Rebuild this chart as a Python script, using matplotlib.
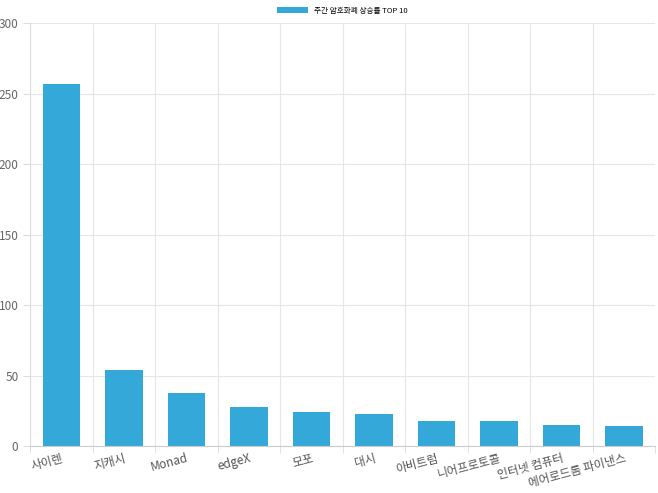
import matplotlib.pyplot as plt
import numpy as np

plt.rcParams['font.family'] = ['Noto Sans CJK KR', 'DejaVu Sans']

coins = ["사이렌", "지캐시", "Monad", "edgeX", "모포", "대시", "아비트럼",
         "니어프로토콜", "인터넷 컴퓨터", "에어로드롬 파이낸스"]
gains = [257, 54, 37.5, 28, 24, 23, 18, 17.5, 14.8, 14.2]
legend_label = "주간 암호화폐 상승률 TOP 10"

fig = plt.figure(figsize=(6.58, 4.93), dpi=100)
ax = fig.add_axes([0.046, 0.095, 0.95, 0.858])

x = np.arange(len(coins))
ax.bar(x, gains, width=0.6, color="#34a8d9", label=legend_label, zorder=2)

ax.set_xlim(-0.5, len(coins) - 0.5)
ax.set_ylim(0, 300)
ax.set_yticks(range(0, 301, 50))
ax.set_xticks(x)
ax.set_xticklabels(coins, rotation=15, ha="right", rotation_mode="anchor")
ax.set_xticks(np.arange(-0.5, len(coins)), minor=True)
ax.grid(False)
ax.grid(True, which="minor", axis="x", color="#e6e6e6", lw=0.8, zorder=0)
ax.grid(True, which="major", axis="y", color="#e6e6e6", lw=0.8, zorder=0)
ax.tick_params(axis="x", which="major", length=0, labelsize=8.5, colors="#555555", pad=4)
ax.tick_params(axis="x", which="minor", length=5, color="#dddddd")
ax.tick_params(axis="y", length=5, color="#dddddd", labelsize=8.5, colors="#666666")
for s in ["top", "right"]:
    ax.spines[s].set_visible(False)
ax.spines["left"].set_color("#dddddd")
ax.spines["bottom"].set_color("#cccccc")

fig.legend(loc="upper center", bbox_to_anchor=(0.52, 1.0), frameon=False,
           fontsize=5.5, handlelength=4, handleheight=0.8)

fig.savefig("out.png")
